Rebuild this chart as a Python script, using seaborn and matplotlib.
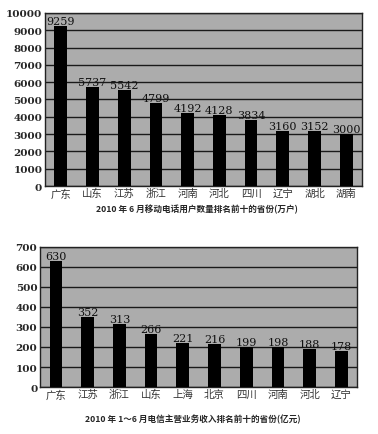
import pandas as pd
import numpy as np
import seaborn as sns
import matplotlib.pyplot as plt

# chart 1: mobile users (10k)
prov_mobile = ["广东", "山东", "江苏", "浙江", "河南", "河北", "四川", "辽宁", "湖北", "湖南"]
users = [9259, 5737, 5542, 4799, 4192, 4128, 3834, 3160, 3152, 3000]

# chart 2: telecom revenue (100m yuan)
prov_rev = ["广东", "江苏", "浙江", "山东", "上海", "北京", "四川", "河南", "河北", "辽宁"]
revenue = [630, 352, 313, 266, 221, 216, 199, 198, 188, 178]

title1 = "2010 年 6 月移动电话用户数量排名前十的省份(万户)"
title2 = "2010 年 1～6 月电信主营业务收入排名前十的省份(亿元)"

sns.set_style("white")
plt.rcParams["font.family"] = ["Noto Sans CJK SC", "DejaVu Sans"]

fig = plt.figure(figsize=(3.78, 4.35), dpi=100)
ax1 = fig.add_axes([0.119, 0.570, 0.839, 0.398])
ax2 = fig.add_axes([0.106, 0.108, 0.839, 0.322])

def draw(ax, cats, vals, ymax, step):
    df = pd.DataFrame({"p": cats, "v": vals})
    sns.barplot(x="p", y="v", data=df, color="black", width=0.4, ax=ax,
                saturation=1, linewidth=0, zorder=3)
    ax.set_facecolor("#acacac")
    ax.set_ylim(0, ymax)
    ax.set_yticks(np.arange(0, ymax + 1, step))
    ax.grid(axis="y", color="#1a1a1a", linewidth=1, zorder=1)
    ax.set_axisbelow(True)
    ax.set_xlabel("")
    ax.set_ylabel("")
    for s in ax.spines.values():
        s.set_color("#222222")
        s.set_linewidth(1)
    ax.tick_params(axis="y", length=0, pad=2)
    ax.tick_params(axis="x", length=0, pad=1.5)
    for t in ax.get_yticklabels():
        t.set_family("DejaVu Serif")
        t.set_fontweight("bold")
        t.set_fontsize(7.5)
    for t in ax.get_xticklabels():
        t.set_fontsize(7.5)
        t.set_color("#333333")
    ax.bar_label(ax.containers[0], fmt="%d", padding=0, fontsize=8,
                 family="DejaVu Serif", color="#111111")

draw(ax1, prov_mobile, users, 10000, 1000)
draw(ax2, prov_rev, revenue, 700, 100)

fig.text(0.52, 0.519, title1, ha="center", va="center", fontsize=6.2, fontweight="bold")
fig.text(0.51, 0.036, title2, ha="center", va="center", fontsize=6.2, fontweight="bold")

fig.savefig("out.png", dpi=100)
